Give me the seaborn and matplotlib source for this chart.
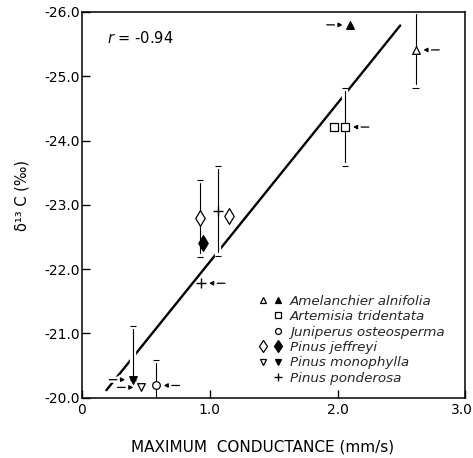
import matplotlib
matplotlib.use("Agg")
import matplotlib.pyplot as plt
import matplotlib.patheffects as pe
import matplotlib.transforms as mtransforms
from matplotlib.lines import Line2D
from matplotlib.legend_handler import HandlerTuple
import numpy as np
import pandas as pd
import seaborn as sns

# Species and their plotting symbols
species_names = ["Amelanchier alnifolia", "Artemisia tridentata", "Juniperus osteosperma",
                 "Pinus jeffreyi", "Pinus monophylla", "Pinus ponderosa"]
species_markers = ["^", "s", "o", "d", "v", "+"]
species_has_filled = [True, False, False, True, True, False]

# Individual observations
pt_species = ["Amelanchier alnifolia", "Amelanchier alnifolia",
              "Artemisia tridentata", "Artemisia tridentata",
              "Juniperus osteosperma",
              "Pinus jeffreyi", "Pinus jeffreyi", "Pinus jeffreyi",
              "Pinus monophylla", "Pinus monophylla",
              "Pinus ponderosa", "Pinus ponderosa"]
pt_filled = [False, True, False, False, False, False, False, True, True, False, False, False]
pt_conductance = [2.61, 2.10, 1.97, 2.06, 0.58, 0.925, 1.155, 0.945, 0.40, 0.465, 1.065, 0.935]
pt_delta13c = [-25.41, -25.80, -24.21, -24.21, -20.19, -22.79, -22.83, -22.40, -20.28, -20.16, -22.90, -21.78]
# error toward more negative values / toward less negative values
pt_err_neg = [0.60, 0.0, 0.0, 0.60, 0.40, 0.60, 0.0, 0.0, 0.84, 0.0, 0.70, 0.0]
pt_err_pos = [0.60, 0.0, 0.0, 0.60, 0.40, 0.60, 0.0, 0.0, 0.00, 0.0, 0.70, 0.0]
# side from which a pointer arrow approaches the point
pt_arrow = ["right", "left", None, "right", "right", None, None, None, "left", "left", None, "right"]

# Regression line
fit_slope = -2.47
fit_intercept = -19.64
fit_x_range = [0.193, 2.49]
r_value = -0.94

x_ticks = [0, 1, 2, 3]
x_tick_labels = ["0", "1.0", "2.0", "3.0"]
y_ticks = [-26, -25, -24, -23, -22, -21, -20]
y_tick_labels = ["-26.0", "-25.0", "-24.0", "-23.0", "-22.0", "-21.0", "-20.0"]

marker_size = {"^": 5.5, "s": 5.5, "o": 5.5, "d": 8.0, "v": 5.5, "+": 7.0}

sns.set_theme(style="ticks")
plt.rcParams["font.family"] = ["DejaVu Sans"]
plt.rcParams["axes.unicode_minus"] = False

df = pd.DataFrame({
    "species": pt_species, "filled": pt_filled,
    "g": pt_conductance, "d13c": pt_delta13c,
    "eneg": pt_err_neg, "epos": pt_err_pos, "arrow": pt_arrow,
})
marker_of = dict(zip(species_names, species_markers))

fig = plt.figure(figsize=(4.73, 4.58), dpi=100)
ax = fig.add_axes([0.1727, 0.1317, 0.8114, 0.8421])

halo = [pe.Stroke(linewidth=4.5, foreground="white"), pe.Normal()]

# regression line
fx = np.array(fit_x_range)
fy = fit_intercept + fit_slope * fx
sns.lineplot(x=fx, y=fy, ax=ax, color="black", linewidth=1.7, zorder=1.5)

# error bars, with a white halo that breaks the line where they cross it
eb = df[(df.eneg > 0) | (df.epos > 0)]
cont = ax.errorbar(eb.g, eb.d13c, yerr=[eb.eneg, eb.epos], fmt="none", ecolor="black",
                   elinewidth=0.8, capsize=2.3, capthick=0.8, zorder=2)
for cl in cont.lines[1]:
    cl.set_path_effects(halo)
for bl in cont.lines[2]:
    bl.set_path_effects(halo)

# symbols
for (sp, filled), grp in df.groupby(["species", "filled"]):
    m = marker_of[sp]
    ms = marker_size[m]
    if m == "+":
        sns.scatterplot(data=grp, x="g", y="d13c", ax=ax, marker=m, s=ms ** 2,
                        color="black", linewidth=1.0, zorder=3)
    else:
        sns.scatterplot(data=grp, x="g", y="d13c", ax=ax, marker=m, s=ms ** 2,
                        color="black" if filled else "white", edgecolor="black",
                        linewidth=0.9, zorder=3)

# pointer arrows
for _, row in df[df.arrow.notna()].iterrows():
    dx = -17 if row.arrow == "left" else 17
    ann = ax.annotate("", xy=(row.g, row.d13c), xytext=(dx, 0), textcoords="offset points",
                      arrowprops=dict(arrowstyle="-|>", color="black", lw=0.9,
                                      mutation_scale=6, shrinkA=0, shrinkB=5.5),
                      zorder=2.2)
    ann.arrow_patch.set_path_effects(halo)

ax.set_xlim(0, 3)
ax.set_ylim(-20, -26)
ax.set_xticks(x_ticks)
ax.set_xticklabels(x_tick_labels)
ax.set_yticks(y_ticks)
ax.set_yticklabels(y_tick_labels)
ax.tick_params(axis="both", direction="in", length=5.5, width=1.0, labelsize=10,
               color="black", labelcolor="black")
ax.tick_params(axis="y", pad=1.5)
ax.tick_params(axis="x", pad=4)
for s in ax.spines.values():
    s.set_linewidth(1.1)
    s.set_color("black")

# pull the last x tick label slightly inward so it stays on the canvas
last_lab = ax.xaxis.get_major_ticks()[-1].label1
last_lab.set_transform(last_lab.get_transform() +
                       mtransforms.ScaledTranslation(-2.5 / 72, 0, fig.dpi_scale_trans))

ax.set_xlabel("MAXIMUM  CONDUCTANCE (mm/s)", fontsize=11, color="black")
ax.set_ylabel("δ¹³ C (‰)", fontsize=10.5, color="black")
ax.xaxis.set_label_coords(0.47, -0.108)
ax.yaxis.set_label_coords(-0.137, 0.523)

ax.text(0.066, 0.933, f"$r$ = {r_value:.2f}", transform=ax.transAxes,
        fontsize=10.5, va="center", ha="left", color="black")

# legend: open and filled symbol side by side
handles = []
for name, m, hf in zip(species_names, species_markers, species_has_filled):
    ms = marker_size[m] * 0.78
    blank = Line2D([], [], linestyle="none", marker=None)
    if m == "+":
        h2 = Line2D([], [], linestyle="none", marker=m, markersize=ms,
                    color="black", markeredgewidth=1.0)
        handles.append((blank, h2))
    elif hf:
        h1 = Line2D([], [], linestyle="none", marker=m, markersize=ms,
                    markerfacecolor="white", markeredgecolor="black", markeredgewidth=0.9)
        h2 = Line2D([], [], linestyle="none", marker=m, markersize=ms,
                    markerfacecolor="black", markeredgecolor="black", markeredgewidth=0.9)
        handles.append((h1, h2))
    else:
        h2 = Line2D([], [], linestyle="none", marker=m, markersize=ms,
                    markerfacecolor="white", markeredgecolor="black", markeredgewidth=0.9)
        handles.append((blank, h2))

leg = ax.legend(handles, species_names, handler_map={tuple: HandlerTuple(ndivide=None, pad=0)},
                loc="upper left", bbox_to_anchor=(0.453, 0.267), frameon=False,
                prop={"style": "italic", "size": 9.7}, handlelength=2.27,
                handletextpad=0.27, labelspacing=0.18, borderpad=0, borderaxespad=0)

fig.savefig("out.png", dpi=100)
